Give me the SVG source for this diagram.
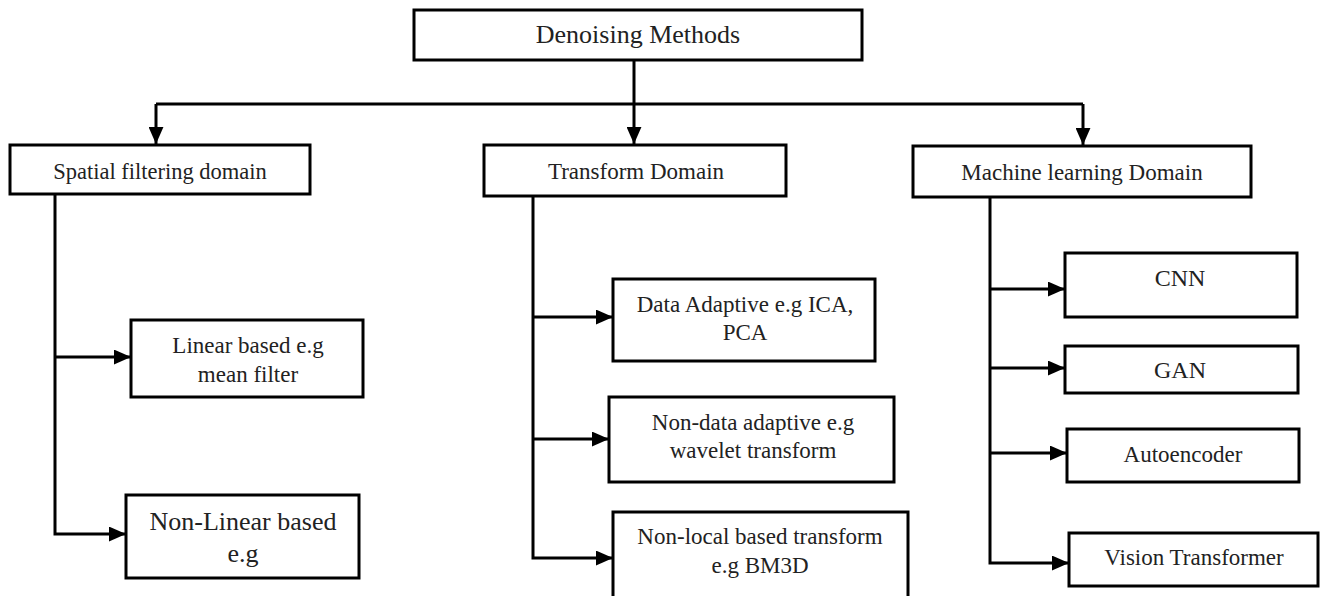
<svg xmlns="http://www.w3.org/2000/svg" width="1323" height="596" viewBox="0 0 1323 596">
<style>
.box{fill:#fff;stroke:#000;stroke-width:3}
.t{font-family:"Liberation Serif","Times New Roman",serif;fill:#222;text-anchor:middle}
.c{fill:none;stroke:#000;stroke-width:3}
</style>
<defs>
<marker id="ah" viewBox="0 0 16 14" refX="16" refY="7" markerWidth="17" markerHeight="15" markerUnits="userSpaceOnUse" orient="auto">
<path d="M0,0 L16,7 L0,14 z" fill="#000"/>
</marker>
</defs>
<rect width="1323" height="596" fill="#fff"/>
<g id="connectors">
<path class="c" d="M634,60 V144" marker-end="url(#ah)"/>
<path class="c" d="M156,104 H1083"/>
<path class="c" d="M156,104 V144" marker-end="url(#ah)"/>
<path class="c" d="M1083,104 V145" marker-end="url(#ah)"/>
<path class="c" d="M55,195 V534 H126" marker-end="url(#ah)"/>
<path class="c" d="M55,357 H131" marker-end="url(#ah)"/>
<path class="c" d="M533,196 V558 H613" marker-end="url(#ah)"/>
<path class="c" d="M533,317 H613" marker-end="url(#ah)"/>
<path class="c" d="M533,439 H609" marker-end="url(#ah)"/>
<path class="c" d="M990,197 V563 H1069" marker-end="url(#ah)"/>
<path class="c" d="M990,289 H1065" marker-end="url(#ah)"/>
<path class="c" d="M990,368 H1065" marker-end="url(#ah)"/>
<path class="c" d="M990,453 H1067" marker-end="url(#ah)"/>
</g>
<g id="root"><rect class="box" x="414" y="10" width="448" height="50"/><text class="t" x="638" y="43" font-size="26">Denoising Methods</text></g>
<g id="spatial"><rect class="box" x="10" y="145" width="300" height="49"/><text class="t" x="160" y="179" font-size="22.5">Spatial filtering domain</text></g>
<g id="transform"><rect class="box" x="484" y="145" width="302" height="51"/><text class="t" x="636" y="179" font-size="23">Transform Domain</text></g>
<g id="ml"><rect class="box" x="913" y="146" width="338" height="51"/><text class="t" x="1082" y="180" font-size="23">Machine learning Domain</text></g>
<g id="linear"><rect class="box" x="131" y="320" width="232" height="77"/><text class="t" x="248" y="353" font-size="23">Linear based e.g</text><text class="t" x="248" y="382" font-size="23">mean filter</text></g>
<g id="nonlinear"><rect class="box" x="126" y="495" width="233" height="83"/><text class="t" x="243" y="530" font-size="26">Non-Linear based</text><text class="t" x="243" y="562" font-size="26">e.g</text></g>
<g id="dataadaptive"><rect class="box" x="613" y="279" width="262" height="82"/><text class="t" x="745" y="312" font-size="23">Data Adaptive e.g ICA,</text><text class="t" x="745" y="340" font-size="23">PCA</text></g>
<g id="nondata"><rect class="box" x="609" y="397" width="285" height="85"/><text class="t" x="753" y="430" font-size="23">Non-data adaptive e.g</text><text class="t" x="753" y="458" font-size="23">wavelet transform</text></g>
<g id="nonlocal"><rect class="box" x="613" y="512" width="295" height="90"/><text class="t" x="760" y="544" font-size="23">Non-local based transform</text><text class="t" x="760" y="573" font-size="23">e.g BM3D</text></g>
<g id="cnn"><rect class="box" x="1065" y="253" width="232" height="64"/><text class="t" x="1180" y="286" font-size="24">CNN</text></g>
<g id="gan"><rect class="box" x="1065" y="346" width="233" height="47"/><text class="t" x="1180" y="378" font-size="24">GAN</text></g>
<g id="autoencoder"><rect class="box" x="1067" y="429" width="232" height="53"/><text class="t" x="1183" y="462" font-size="23">Autoencoder</text></g>
<g id="vit"><rect class="box" x="1069" y="533" width="249" height="53"/><text class="t" x="1194" y="565" font-size="23">Vision Transformer</text></g>
</svg>
